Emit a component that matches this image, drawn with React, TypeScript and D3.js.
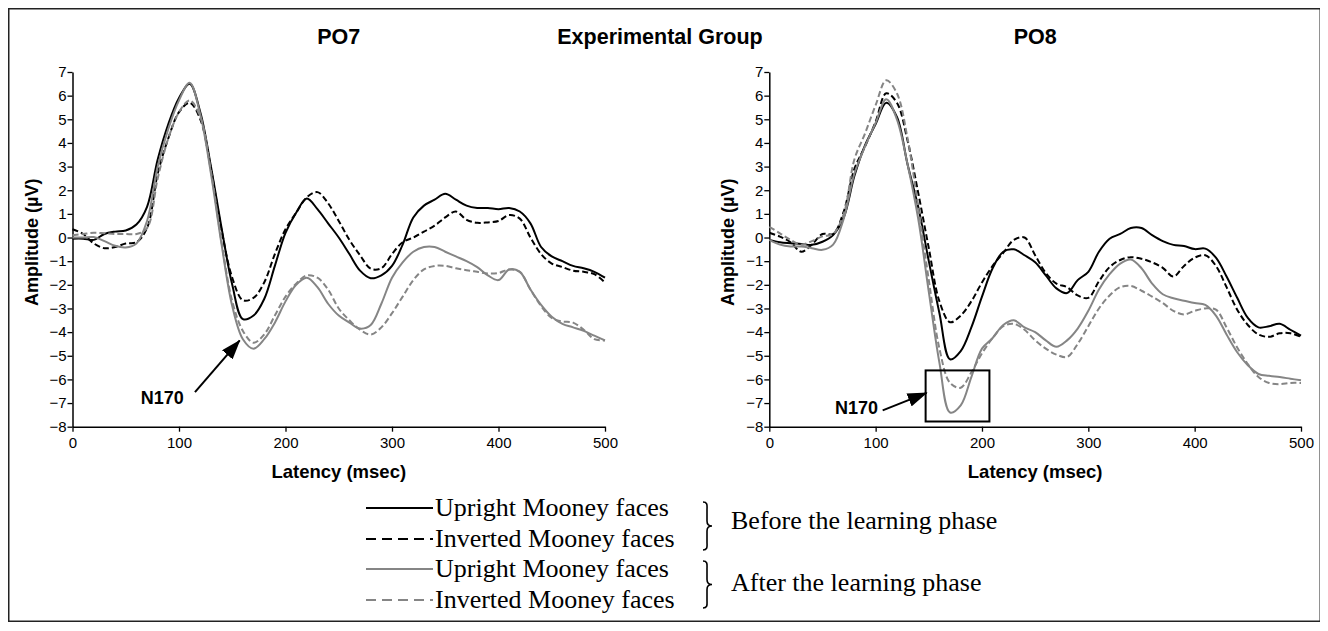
import React, { useEffect, useRef } from 'react'
import * as d3 from 'd3'

// latency samples (msec)
const latency = [
  0, 10, 20, 30, 40, 50, 60, 70, 80, 90,
  100, 110, 120, 130, 140, 150, 160, 170, 180, 190,
  200, 210, 220, 230, 240, 250, 260, 270, 280, 290,
  300, 310, 320, 330, 340, 350, 360, 370, 380, 390,
  400, 410, 420, 430, 440, 450, 460, 470, 480, 490, 500,
]

// PO7 amplitudes (µV)
const po7UprightBefore = [
  -0.05, -0.05, -0.1, 0.15, 0.25, 0.3, 0.55, 1.3, 3.3, 4.8,
  5.9, 6.5, 5.3, 3.0, 0.4, -2.0, -3.45, -3.3, -2.6, -1.2,
  0.2, 1.05, 1.65, 1.2, 0.6, 0.0, -0.7, -1.4, -1.72, -1.6,
  -1.2, -0.3, 0.85, 1.35, 1.6, 1.85, 1.6, 1.35, 1.25, 1.25,
  1.2, 1.25, 1.1, 0.6, -0.4, -0.8, -1.0, -1.2, -1.3, -1.45, -1.7,
]
const po7InvertedBefore = [
  0.35, 0.15, -0.25, -0.45, -0.4, -0.25, -0.2, 0.4, 2.7, 4.2,
  5.3, 5.7, 5.0, 2.9, 0.3, -1.7, -2.65, -2.55, -1.9, -0.7,
  0.35, 1.05, 1.7, 1.92, 1.45, 0.7, -0.1, -0.75, -1.32, -1.3,
  -0.7, -0.2, 0.0, 0.25, 0.5, 0.85, 1.1, 0.75, 0.62, 0.64,
  0.7, 0.95, 0.8, 0.0, -0.7, -1.1, -1.25, -1.4, -1.45, -1.55, -1.9,
]
const po7UprightAfter = [
  0.0, 0.0, 0.02, -0.15, -0.35, -0.42, -0.25, 0.7, 3.0, 4.6,
  5.8, 6.55, 5.2, 2.7, -0.3, -2.9, -4.3, -4.7, -4.3, -3.6,
  -2.7, -2.0, -1.7, -2.1, -2.8, -3.3, -3.6, -3.85, -3.7, -2.8,
  -1.7, -1.05, -0.6, -0.4, -0.4, -0.6, -0.8, -1.0, -1.25, -1.6,
  -1.8, -1.35, -1.45, -2.2, -2.85, -3.35, -3.65, -3.8, -3.95, -4.15, -4.35,
]
const po7InvertedAfter = [
  0.1, 0.15, 0.2, 0.18, 0.15, 0.15, 0.15, 0.4, 2.5, 4.2,
  5.3, 5.8, 5.1, 2.8, -0.2, -2.7, -3.95, -4.45, -4.1, -3.3,
  -2.5, -1.95, -1.6, -1.7, -2.2, -3.0, -3.5, -3.9, -4.1, -3.8,
  -3.2, -2.5, -1.8, -1.35, -1.2, -1.2, -1.3, -1.38, -1.45, -1.52,
  -1.5, -1.35, -1.45, -2.2, -2.9, -3.4, -3.55, -3.6, -3.9, -4.3, -4.35,
]

// PO8 amplitudes (µV)
const po8UprightBefore = [
  -0.1, -0.2, -0.24, -0.27, -0.31, -0.18, 0.1, 0.85, 2.6, 3.9,
  4.8, 5.7, 5.1, 3.1, 1.3, -1.0, -3.2, -5.15, -4.8, -3.8,
  -2.5, -1.3, -0.6, -0.5, -0.75, -1.05, -1.6, -2.15, -2.35, -1.8,
  -1.45, -0.6, -0.05, 0.15, 0.4, 0.4, 0.1, -0.15, -0.31, -0.36,
  -0.49, -0.47, -0.85, -1.65, -2.55, -3.4, -3.8, -3.75, -3.65, -3.9, -4.15,
]
const po8InvertedBefore = [
  0.2, 0.04, -0.2, -0.6, -0.3, 0.15, 0.15, 1.1, 2.9, 3.85,
  4.9, 6.1, 5.7, 4.1, 1.9, -0.45, -2.7, -3.58, -3.3, -2.7,
  -1.9, -1.2, -0.65, -0.1, 0.0, -0.75, -1.5, -1.95, -2.1, -2.45,
  -2.55, -1.85, -1.25, -0.95, -0.83, -0.9, -1.05, -1.28, -1.65, -1.2,
  -0.85, -0.75, -1.2, -2.1, -3.05, -3.7, -4.1, -4.2, -4.05, -4.05, -4.2,
]
const po8UprightAfter = [
  -0.1, -0.3, -0.38, -0.38, -0.45, -0.52, -0.3, 0.8, 2.7, 3.85,
  4.85, 5.85, 5.0, 3.1, 0.8, -2.3, -5.3, -7.4, -7.1, -5.9,
  -4.7, -4.25, -3.7, -3.5, -3.8, -4.0, -4.35, -4.62, -4.35, -3.85,
  -3.1, -2.2, -1.55, -1.1, -0.93, -1.3, -1.95, -2.4, -2.57, -2.67,
  -2.77, -2.85, -3.3, -4.1, -4.85, -5.4, -5.77, -5.85, -5.9, -5.97, -6.04,
]
const po8InvertedAfter = [
  0.45, 0.18, -0.1, -0.3, -0.15, 0.05, 0.15, 1.0, 3.3, 4.4,
  5.6, 6.65, 6.1, 4.2, 1.3, -1.8, -4.7, -6.15, -6.35, -5.7,
  -4.9, -4.25, -3.75, -3.65, -3.9, -4.35, -4.7, -4.95, -5.05, -4.5,
  -3.75, -3.0, -2.45, -2.1, -2.05, -2.25, -2.5, -2.77, -3.1, -3.25,
  -3.1, -3.0, -3.05, -3.8, -4.65, -5.35, -5.9, -6.15, -6.2, -6.15, -6.15,
]

const xTicks = [0, 100, 200, 300, 400, 500]
const yTicks = [-8, -7, -6, -5, -4, -3, -2, -1, 0, 1, 2, 3, 4, 5, 6, 7]

const conditionLabels = ['Upright Mooney faces', 'Inverted Mooney faces', 'Upright Mooney faces', 'Inverted Mooney faces']
const phaseLabels = ['Before the learning phase', 'After the learning phase']

const BLACK = '#000'
const GRAY = '#858585'
const SANS = '"Liberation Sans", Arial, Helvetica, sans-serif'
const SERIF = '"Liberation Serif", "Times New Roman", serif'

const styles = [
  { color: BLACK, dash: null },
  { color: BLACK, dash: '6,3' },
  { color: GRAY, dash: null },
  { color: GRAY, dash: '6,3' },
]

interface Panel {
  title: string
  left: number
  right: number
  series: number[][]
  // N170 annotation (data coords)
  label: { t: number; v: number; anchor: string }
  arrow: { t0: number; v0: number; t1: number; v1: number }
  box?: { t0: number; t1: number; v0: number; v1: number }
}

const panels: Panel[] = [
  {
    title: 'PO7',
    left: 72.5,
    right: 605,
    series: [po7UprightBefore, po7InvertedBefore, po7UprightAfter, po7InvertedAfter],
    label: { t: 64, v: -7.02, anchor: 'start' },
    arrow: { t0: 115, v0: -6.54, t1: 157, v1: -4.35 },
  },
  {
    title: 'PO8',
    left: 769.3,
    right: 1301,
    series: [po8UprightBefore, po8InvertedBefore, po8UprightAfter, po8InvertedAfter],
    label: { t: 102.3, v: -7.45, anchor: 'end' },
    arrow: { t0: 106.6, v0: -7.31, t1: 148, v1: -6.57 },
    box: { t0: 147, t1: 207, v0: -5.62, v1: -7.78 },
  },
]

const W = 1312
const H = 615

const App: React.FC = () => {
  const svgRef = useRef<SVGSVGElement>(null)

  useEffect(() => {
    if (!svgRef.current) return
    const svg = d3.select(svgRef.current)
    svg.selectAll('*').remove()

    // page coordinates
    const root = svg.append('g').attr('transform', 'translate(-8,-8)')

    const defs = svg.append('defs')
    defs.append('marker')
      .attr('id', 'arrowhead')
      .attr('markerUnits', 'userSpaceOnUse')
      .attr('markerWidth', 20)
      .attr('markerHeight', 14)
      .attr('refX', 19)
      .attr('refY', 7)
      .attr('orient', 'auto')
      .append('path')
      .attr('d', 'M0,0 L20,7 L0,14 Z')
      .attr('fill', BLACK)

    // outer frame
    root.append('rect')
      .attr('x', 8.75)
      .attr('y', 8.75)
      .attr('width', 1311.5)
      .attr('height', 612.5)
      .attr('fill', 'none')
      .attr('stroke', '#222')
      .attr('stroke-width', 1.5)

    root.append('text')
      .attr('x', 660)
      .attr('y', 44)
      .attr('text-anchor', 'middle')
      .attr('font-family', SANS)
      .attr('font-weight', 'bold')
      .attr('font-size', 21.5)
      .text('Experimental Group')

    panels.forEach(p => {
      const x = d3.scaleLinear().domain([0, 500]).range([p.left, p.right])
      const y = d3.scaleLinear().domain([-8, 7]).range([426.7, 72])
      const g = root.append('g')

      g.append('text')
        .attr('x', (p.left + p.right) / 2)
        .attr('y', 44)
        .attr('text-anchor', 'middle')
        .attr('font-family', SANS)
        .attr('font-weight', 'bold')
        .attr('font-size', 21.5)
        .text(p.title)

      const xAxis = g.append('g')
        .attr('transform', `translate(0,${y(-8)})`)
        .call(d3.axisBottom(x).tickValues(xTicks).tickSize(5).tickSizeOuter(0).tickPadding(6))
      const yAxis = g.append('g')
        .attr('transform', `translate(${p.left},0)`)
        .call(d3.axisLeft(y).tickValues(yTicks).tickSize(5).tickSizeOuter(0).tickPadding(1))

      ;[xAxis, yAxis].forEach(a => {
        a.attr('font-family', SANS).attr('font-size', 15)
        a.select('.domain').attr('stroke', BLACK).attr('stroke-width', 1.5)
        a.selectAll('.tick line').attr('stroke', BLACK).attr('stroke-width', 1.3)
        a.selectAll('.tick text').attr('fill', BLACK)
      })

      g.append('text')
        .attr('x', (p.left + p.right) / 2)
        .attr('y', 478)
        .attr('text-anchor', 'middle')
        .attr('font-family', SANS)
        .attr('font-weight', 'bold')
        .attr('font-size', 18.5)
        .text('Latency (msec)')

      g.append('text')
        .attr('transform', `translate(${p.left - 35},${y(-0.2)}) rotate(-90)`)
        .attr('text-anchor', 'middle')
        .attr('font-family', SANS)
        .attr('font-weight', 'bold')
        .attr('font-size', 18)
        .text('Amplitude (µV)')

      const line = d3.line<number>()
        .x((_, i) => x(latency[i]))
        .y(d => y(d))
        .curve(d3.curveCatmullRom.alpha(0.5))

      p.series.forEach((values, i) => {
        g.append('path')
          .datum(values)
          .attr('fill', 'none')
          .attr('stroke', styles[i].color)
          .attr('stroke-width', 2)
          .attr('stroke-dasharray', styles[i].dash)
          .attr('d', line)
      })

      if (p.box) {
        g.append('rect')
          .attr('x', x(p.box.t0))
          .attr('y', y(p.box.v0))
          .attr('width', x(p.box.t1) - x(p.box.t0))
          .attr('height', y(p.box.v1) - y(p.box.v0))
          .attr('fill', 'none')
          .attr('stroke', BLACK)
          .attr('stroke-width', 2)
      }

      g.append('line')
        .attr('x1', x(p.arrow.t0))
        .attr('y1', y(p.arrow.v0))
        .attr('x2', x(p.arrow.t1))
        .attr('y2', y(p.arrow.v1))
        .attr('stroke', BLACK)
        .attr('stroke-width', 2)
        .attr('marker-end', 'url(#arrowhead)')

      g.append('text')
        .attr('x', x(p.label.t))
        .attr('y', y(p.label.v))
        .attr('text-anchor', p.label.anchor)
        .attr('font-family', SANS)
        .attr('font-weight', 'bold')
        .attr('font-size', 18)
        .text('N170')
    })

    // legend
    const legend = root.append('g')
    const rowY = [508, 539, 569, 600]
    conditionLabels.forEach((label, i) => {
      legend.append('line')
        .attr('x1', 366)
        .attr('x2', 433)
        .attr('y1', rowY[i])
        .attr('y2', rowY[i])
        .attr('stroke', styles[i].color)
        .attr('stroke-width', 2.2)
        .attr('stroke-dasharray', styles[i].dash ? '10,6' : null)
      legend.append('text')
        .attr('x', 435)
        .attr('y', rowY[i] + 8)
        .attr('font-family', SERIF)
        .attr('font-size', 26)
        .attr('fill', BLACK)
        .text(label)
    })

    const brace = (bx: number, y0: number, y1: number) => {
      const m = (y0 + y1) / 2
      return `M${bx},${y0} C${bx + 5},${y0} ${bx + 4},${y0 + 4} ${bx + 4},${y0 + 8}` +
        ` L${bx + 4},${m - 5} C${bx + 4},${m - 2} ${bx + 6},${m} ${bx + 9},${m}` +
        ` C${bx + 6},${m} ${bx + 4},${m + 2} ${bx + 4},${m + 5}` +
        ` L${bx + 4},${y1 - 8} C${bx + 4},${y1 - 4} ${bx + 5},${y1} ${bx},${y1}`
    }

    const braceSpans = [[502, 550], [561, 608]]
    phaseLabels.forEach((label, k) => {
      const [y0, y1] = braceSpans[k]
      legend.append('path')
        .attr('d', brace(703, y0, y1))
        .attr('fill', 'none')
        .attr('stroke', BLACK)
        .attr('stroke-width', 1.6)
      legend.append('text')
        .attr('x', 731)
        .attr('y', k === 0 ? 529 : 591)
        .attr('font-family', SERIF)
        .attr('font-size', 26)
        .attr('fill', BLACK)
        .text(label)
    })
  }, [])

  return <svg ref={svgRef} width={W} height={H} style={{ display: 'block', background: '#fff' }} />
}

export default App
